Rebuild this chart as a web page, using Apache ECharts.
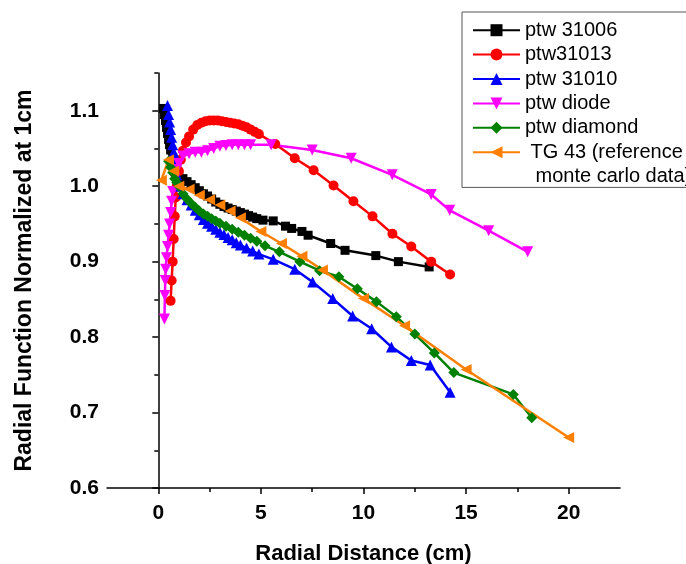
<!DOCTYPE html>
<html>
<head>
<meta charset="utf-8">
<script src="https://cdn.jsdelivr.net/npm/echarts@6/dist/echarts.min.js"></script>
<style>html,body{margin:0;padding:0;background:#fff}#c{width:686px;height:564px}</style>
</head>
<body>
<div id="c"></div>
<script>
// ---- data ----
const seriesNames = ['ptw 31006', 'ptw31013', 'ptw 31010', 'ptw diode', 'ptw diamond', ' TG 43 (reference'];
const legendExtraLine = ' monte carlo data)';

const x31006 = [0.25,0.3,0.35,0.4,0.45,0.5,0.55,0.6,0.7,0.8,0.9,1.0,1.2,1.4,1.6,1.8,2.0,2.2,2.4,2.6,2.8,3.0,3.2,3.4,3.6,3.8,4.0,4.2,4.4,4.6,4.8,5.1,5.6,6.2,6.5,7.0,7.3,8.4,9.1,10.6,11.7,13.2];
const y31006 = [1.103,1.095,1.087,1.078,1.07,1.062,1.055,1.048,1.038,1.03,1.022,1.015,1.01,1.006,1.002,0.998,0.994,0.99,0.987,0.983,0.979,0.976,0.973,0.971,0.969,0.967,0.965,0.963,0.961,0.959,0.957,0.955,0.954,0.947,0.944,0.940,0.935,0.924,0.915,0.908,0.900,0.893];

const x31013 = [0.6,0.65,0.7,0.75,0.8,0.85,0.9,1.0,1.1,1.2,1.35,1.5,1.7,1.9,2.1,2.3,2.5,2.7,2.9,3.1,3.3,3.5,3.7,3.9,4.1,4.3,4.5,4.7,4.9,5.7,6.65,7.57,8.54,9.51,10.44,11.41,12.33,13.3,14.22];
const y31013 = [0.848,0.875,0.9,0.93,0.96,0.985,1.0,1.02,1.035,1.047,1.058,1.066,1.075,1.081,1.084,1.086,1.087,1.087,1.087,1.086,1.085,1.084,1.083,1.082,1.08,1.078,1.075,1.072,1.069,1.056,1.037,1.021,1.001,0.980,0.960,0.937,0.920,0.900,0.883];

const x31010 = [0.45,0.5,0.55,0.6,0.65,0.7,0.75,0.8,0.9,1.0,1.2,1.4,1.6,1.8,2.0,2.2,2.4,2.6,2.8,3.0,3.2,3.4,3.6,3.8,4.0,4.3,4.6,4.9,5.6,6.65,7.52,8.5,9.47,10.4,11.36,12.33,13.25,14.22];
const y31010 = [1.107,1.095,1.085,1.075,1.065,1.055,1.045,1.035,1.015,1.0,0.99,0.982,0.975,0.968,0.962,0.956,0.951,0.947,0.943,0.939,0.936,0.932,0.929,0.925,0.922,0.918,0.914,0.91,0.903,0.89,0.873,0.851,0.828,0.811,0.787,0.769,0.763,0.727];

const xDiode = [0.3,0.32,0.34,0.36,0.4,0.45,0.5,0.55,0.6,0.65,0.7,0.8,0.9,1.0,1.2,1.5,1.8,2.1,2.4,2.7,3.0,3.3,3.6,3.9,4.2,4.5,5.5,7.5,9.4,11.4,13.3,14.2,16.1,18.0];
const yDiode = [0.824,0.855,0.875,0.89,0.905,0.92,0.935,0.95,0.965,0.98,0.993,1.01,1.022,1.03,1.04,1.043,1.045,1.045,1.047,1.05,1.053,1.054,1.055,1.055,1.055,1.055,1.055,1.048,1.037,1.015,0.989,0.968,0.941,0.913];

const xDiamond = [0.5,0.6,0.7,0.8,0.9,1.0,1.2,1.4,1.6,1.8,2.0,2.2,2.4,2.6,2.8,3.0,3.3,3.6,3.9,4.2,4.5,4.8,5.2,5.9,6.9,7.86,8.8,9.7,10.63,11.6,12.5,13.45,14.4,17.3,18.2];
const yDiamond = [1.033,1.025,1.018,1.01,1.005,1.0,0.99,0.983,0.977,0.972,0.967,0.963,0.96,0.957,0.954,0.951,0.947,0.943,0.939,0.935,0.931,0.927,0.921,0.913,0.9,0.888,0.880,0.864,0.847,0.827,0.804,0.779,0.753,0.724,0.693];

const xTG43 = [0.15,0.5,0.75,1.0,1.5,2.0,2.5,3.0,3.5,4.0,5.0,6.0,7.0,8.0,10.0,12.0,15.0,20.0];
const yTG43 = [1.008,1.035,1.02,1.0,0.996,0.988,0.982,0.975,0.967,0.958,0.940,0.924,0.907,0.889,0.851,0.815,0.757,0.667];

const xMajorTicks = [0,5,10,15,20];
const xMinorTicks = [2.5,7.5,12.5,17.5];
const yMajorTicks = [0.6,0.7,0.8,0.9,1.0,1.1];
const yMinorTicks = [0.65,0.75,0.85,0.95,1.05,1.15];

// ---- chart ----
const FONT = '"Liberation Sans", Arial, sans-serif';
const pair = (xs, ys) => xs.map((x, i) => [x, ys[i]]);
const styles = [
  {color:'#000000', symbol:'rect', size:9, rot:0},
  {color:'#ff0000', symbol:'circle', size:10, rot:0},
  {color:'#0000ff', symbol:'triangle', size:11, rot:0},
  {color:'#ff00ff', symbol:'triangle', size:11, rot:180},
  {color:'#008000', symbol:'diamond', size:11, rot:0},
  {color:'#ff8000', symbol:'triangle', size:11, rot:90}
];
const dataSets = [pair(x31006,y31006), pair(x31013,y31013), pair(x31010,y31010), pair(xDiode,yDiode), pair(xDiamond,yDiamond), pair(xTG43,yTG43)];

const chart = echarts.init(document.getElementById('c'), null, {renderer:'canvas'});
const axisLine = {show:true, lineStyle:{color:'#000', width:1.5}};
chart.setOption({
  animation:false,
  backgroundColor:'#fff',
  grid:{left:107, top:73, right:66, bottom:76, containLabel:false, outerBoundsMode:'none'},
  legend:{
    orient:'vertical', left:462, top:12,
    padding:[6,120,23,10],
    itemWidth:47, itemHeight:15, itemGap:0,
    borderColor:'#555', borderWidth:1,
    textStyle:{fontFamily:FONT, fontSize:20, color:'#000', lineHeight:24.4},
    data:seriesNames
  },
  graphic:[{type:'text', left:530, top:166, style:{text:legendExtraLine, font:'20px "Liberation Sans", Arial, sans-serif', fill:'#000'}}],
  xAxis:[{
    type:'value', min:-2.5, max:22.5,
    name:'Radial Distance (cm)', nameLocation:'middle', nameGap:55,
    nameTextStyle:{fontFamily:FONT, fontSize:22, fontWeight:'bold', color:'#000'},
    axisLine:axisLine,
    axisTick:{show:true, inside:false, length:6, lineStyle:{color:'#000', width:1.5}, customValues:xMajorTicks},
    axisLabel:{show:true, margin:15, fontFamily:FONT, fontSize:21, fontWeight:'bold', color:'#000', customValues:xMajorTicks},
    splitLine:{show:false}
  },{
    type:'value', min:-2.5, max:22.5, position:'bottom',
    axisLine:{show:false},
    axisTick:{show:true, length:4, lineStyle:{color:'#000', width:1.5}, customValues:xMinorTicks},
    axisLabel:{show:false},
    splitLine:{show:false}
  }],
  yAxis:[{
    type:'value', min:0.6, max:1.15,
    name:'Radial Function Normalized at 1cm', nameLocation:'middle', nameGap:71,
    nameTextStyle:{fontFamily:FONT, fontSize:23, fontWeight:'bold', color:'#000'},
    axisLine:axisLine,
    axisTick:{show:true, length:6, lineStyle:{color:'#000', width:1.5}, customValues:yMajorTicks},
    axisLabel:{show:true, margin:8, fontFamily:FONT, fontSize:21, fontWeight:'bold', color:'#000', customValues:yMajorTicks, formatter:v=>v.toFixed(1)},
    splitLine:{show:false}
  },{
    type:'value', min:0.6, max:1.15, position:'left',
    axisLine:{show:false},
    axisTick:{show:true, length:4, lineStyle:{color:'#000', width:1.5}, customValues:yMinorTicks},
    axisLabel:{show:false},
    splitLine:{show:false}
  }],
  series: dataSets.map((d, i) => ({
    name: seriesNames[i],
    type:'line',
    xAxisIndex:0, yAxisIndex:0,
    data:d,
    symbol:styles[i].symbol,
    symbolSize:styles[i].size,
    symbolRotate:styles[i].rot,
    showAllSymbol:true,
    color:styles[i].color,
    lineStyle:{color:styles[i].color, width:2.5},
    itemStyle:{color:styles[i].color},
    emphasis:{disabled:true}
  }))
});
</script>
</body>
</html>
